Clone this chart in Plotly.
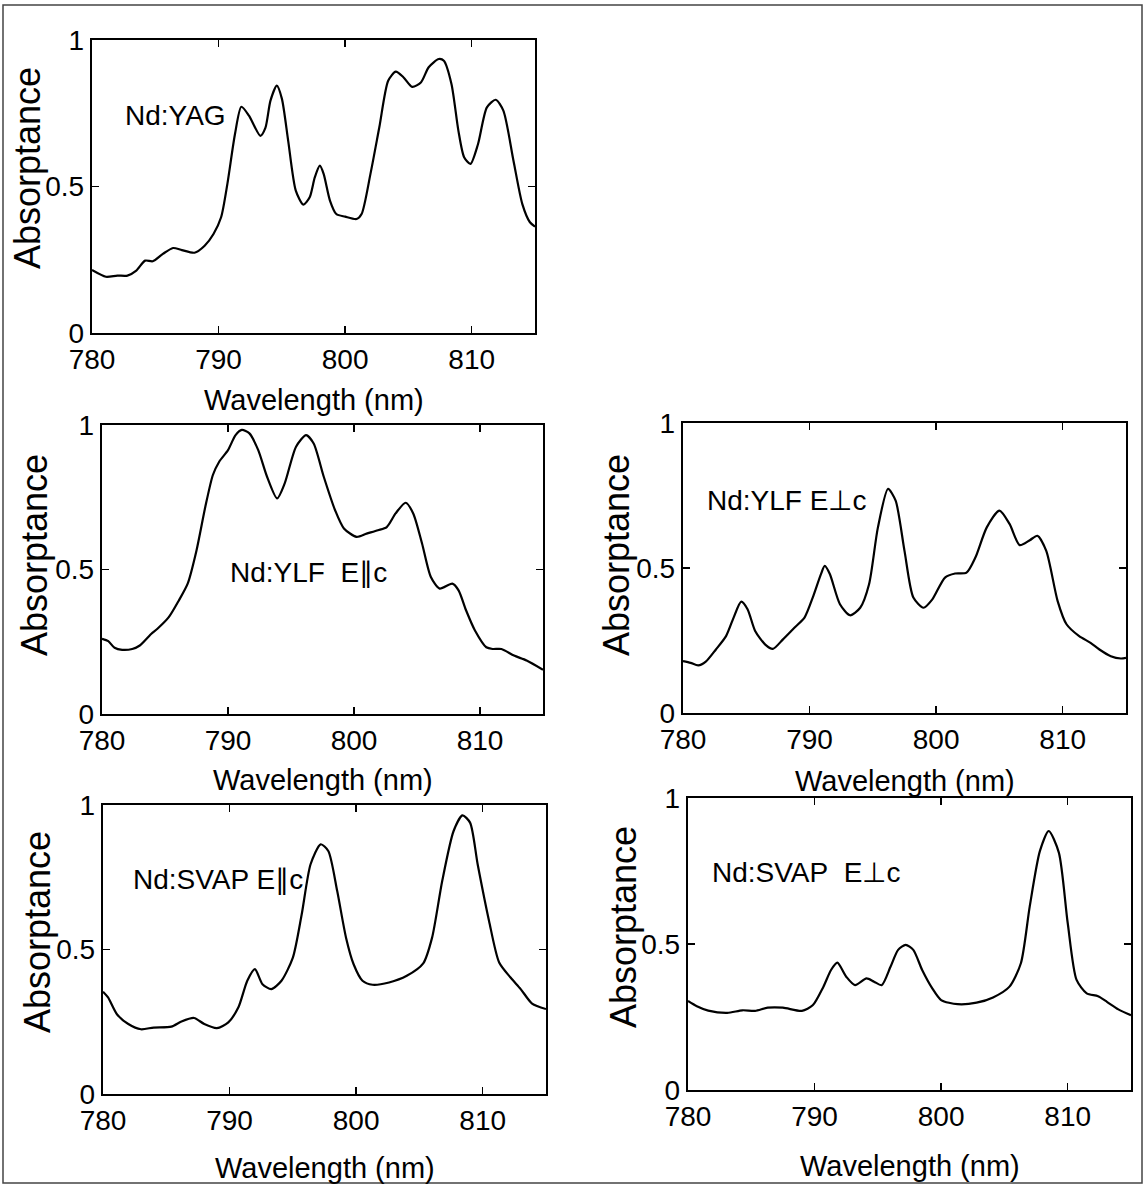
import plotly.graph_objects as go

W, H = 1145, 1184

# ---------------- data ----------------
yag_x = [780, 781.1, 782, 782.8, 783.5, 784.2, 784.8, 785.6, 786.4, 787.1, 788.1, 788.9, 789.6, 790.2,
         790.7, 791.3, 791.8, 792.4, 793.3, 793.7, 794.1, 794.6, 795.0, 795.5, 796.1, 796.7, 797.2, 797.6,
         798.0, 798.3, 798.8, 799.3, 800.0, 800.9, 801.3, 802.0, 802.7, 803.4, 804.0, 804.6, 805.3, 806.0,
         806.6, 807.4, 807.8, 808.4, 808.95, 809.4, 809.9, 810.5, 811.2, 811.9, 812.5, 813.3, 814.0, 814.6, 815]
yag_y = [0.215, 0.192, 0.196, 0.196, 0.213, 0.247, 0.245, 0.27, 0.29, 0.283, 0.274, 0.298, 0.338, 0.395,
         0.51, 0.68, 0.772, 0.742, 0.673, 0.70, 0.793, 0.844, 0.80, 0.656, 0.486, 0.438, 0.463, 0.531,
         0.571, 0.543, 0.452, 0.406, 0.397, 0.389, 0.406, 0.543, 0.702, 0.861, 0.892, 0.873, 0.84, 0.856,
         0.907, 0.935, 0.929, 0.85, 0.69, 0.60, 0.577, 0.645, 0.77, 0.796, 0.759, 0.588, 0.44, 0.378, 0.363]

ylf_par_x = [780, 780.5, 781.0, 781.6, 782.4, 783.0, 783.9, 784.4, 785.3, 786.1, 786.8, 787.5, 788.2, 788.8,
             789.3, 790.0, 790.6, 791.1, 791.7, 792.4, 793.1, 793.9, 794.5, 795.4, 796.2, 796.8, 797.6, 798.5,
             799.2, 800.2, 801.0, 801.9, 802.6, 803.3, 804.1, 804.7, 805.4, 806.1, 806.8, 807.8, 808.3, 808.9,
             809.6, 810.5, 811.0, 811.7, 812.7, 813.7, 815]
ylf_par_y = [0.26, 0.252, 0.229, 0.222, 0.225, 0.237, 0.277, 0.295, 0.335, 0.393, 0.451, 0.566, 0.717, 0.827,
             0.873, 0.913, 0.965, 0.983, 0.971, 0.913, 0.821, 0.746, 0.798, 0.925, 0.965, 0.936, 0.821, 0.705,
             0.642, 0.613, 0.624, 0.636, 0.647, 0.694, 0.731, 0.694, 0.59, 0.474, 0.434, 0.451, 0.428, 0.358,
             0.289, 0.231, 0.225, 0.225, 0.202, 0.185, 0.153]

ylf_perp_x = [780, 780.6, 781.2, 781.8, 782.6, 783.4, 784.0, 784.6, 785.1, 785.7, 786.5, 787.1, 787.9, 788.8,
              789.6, 790.3, 790.9, 791.2, 791.6, 792.4, 793.2, 794.0, 794.7, 795.4, 796.2, 796.8, 797.5, 798.2,
              799.0, 799.7, 800.7, 801.5, 802.4, 803.1, 804.0, 805.0, 805.8, 806.6, 807.4, 808.0, 808.7, 809.6,
              810.3, 811.3, 812.2, 812.9, 813.8, 814.6, 815]
ylf_perp_y = [0.179, 0.173, 0.164, 0.177, 0.219, 0.265, 0.329, 0.384, 0.358, 0.283, 0.236, 0.221, 0.254, 0.294,
              0.329, 0.404, 0.479, 0.507, 0.479, 0.375, 0.337, 0.363, 0.444, 0.64, 0.773, 0.732, 0.559, 0.398,
              0.363, 0.392, 0.467, 0.481, 0.484, 0.536, 0.64, 0.698, 0.652, 0.579, 0.596, 0.611, 0.559, 0.386,
              0.306, 0.265, 0.242, 0.219, 0.196, 0.188, 0.19]

svap_par_x = [780, 780.4, 781.1, 782.0, 783.0, 784.0, 785.4, 786.2, 787.2, 788.0, 789.0, 789.9, 790.7, 791.4,
              792.0, 792.6, 793.3, 794.1, 795.0, 795.7, 796.4, 797.2, 797.8, 798.5, 799.2, 799.8, 800.5, 801.3,
              802.6, 804.0, 805.3, 806.0, 806.8, 807.7, 808.4, 809.0, 809.6, 810.5, 811.3, 812.2, 813.0, 813.9, 815]
svap_par_y = [0.354, 0.334, 0.276, 0.242, 0.224, 0.230, 0.233, 0.251, 0.263, 0.242, 0.228, 0.248, 0.30, 0.392,
              0.432, 0.38, 0.363, 0.392, 0.472, 0.622, 0.795, 0.864, 0.841, 0.703, 0.541, 0.449, 0.392, 0.378,
              0.386, 0.409, 0.452, 0.541, 0.737, 0.91, 0.964, 0.939, 0.795, 0.599, 0.455, 0.403, 0.363, 0.313, 0.294]

svap_perp_x = [780, 780.7, 781.6, 783.1, 784.3, 785.3, 786.3, 787.5, 789.0, 789.85, 790.7, 791.3, 791.8, 792.5,
               793.2, 794.1, 794.7, 795.3, 796.0, 796.6, 797.2, 797.8, 798.5, 799.3, 800.0, 801.3, 802.8, 804.1,
               805.4, 806.3, 807.0, 807.8, 808.5, 809.3, 810.0, 810.7, 811.5, 812.4, 813.1, 814.0, 815]
svap_perp_y = [0.305, 0.287, 0.272, 0.264, 0.273, 0.271, 0.282, 0.282, 0.271, 0.29, 0.354, 0.411, 0.436, 0.388,
               0.359, 0.382, 0.371, 0.359, 0.422, 0.48, 0.497, 0.48, 0.411, 0.348, 0.308, 0.294, 0.299, 0.317,
               0.354, 0.434, 0.629, 0.818, 0.887, 0.813, 0.572, 0.377, 0.331, 0.321, 0.302, 0.276, 0.256]

panel_labels = ["Nd:YAG", "Nd:YLF\u00a0 E\u2225c", "Nd:YLF E\u22a5c", "Nd:SVAP E\u2225c", "Nd:SVAP\u00a0 E\u22a5c"]
label_pos = [(786.6, 0.742), (796.4, 0.491), (788.2, 0.732), (789.1, 0.743), (789.3, 0.744)]

x_ticks = [780, 790, 800, 810]
y_ticks = [0, 0.5, 1]
y_tick_text = ["0", "0.5", "1"]
x_title = "Wavelength (nm)"
y_title = "Absorptance"

# ---------------- layout geometry (screen pixels) ----------------
boxes = [(92, 535, 40, 333), (102, 543, 425, 714), (683, 1126, 423, 713),
         (103, 546, 805, 1094), (688, 1131, 798, 1090)]
ytitle_pos = [(27, 168), (34, 555), (616, 555), (37, 932), (623, 927)]
xtitle_off = [67, 66, 68, 74, 76]

series = [(yag_x, yag_y), (ylf_par_x, ylf_par_y), (ylf_perp_x, ylf_perp_y),
          (svap_par_x, svap_par_y), (svap_perp_x, svap_perp_y)]


def fx(px):
    return px / W


def fy(py):
    return 1 - py / H


FONT = "Liberation Sans, Arial, Helvetica, sans-serif"

fig = go.Figure()
annotations = []
for i, ((sx, sy), (l, r, t, b)) in enumerate(zip(series, boxes), start=1):
    suf = "" if i == 1 else str(i)
    fig.add_trace(go.Scatter(x=sx, y=sy, mode="lines",
                             line=dict(color="black", width=2.2, shape="spline", smoothing=0.7),
                             xaxis="x" + suf, yaxis="y" + suf, showlegend=False, hoverinfo="skip"))
    common = dict(showline=True, linecolor="black", linewidth=2.2, mirror="ticks", ticks="inside",
                  ticklen=7, tickwidth=1.5, tickcolor="black", showgrid=False, zeroline=False,
                  automargin=False,
                  tickfont=dict(family=FONT, size=28, color="black"), fixedrange=True)
    fig.layout["xaxis" + suf] = dict(domain=[fx(l), fx(r)], range=[780, 815], tickvals=x_ticks,
                                     anchor="y" + suf, **common)
    fig.layout["yaxis" + suf] = dict(domain=[fy(b), fy(t)], range=[0, 1], tickvals=y_ticks,
                                     ticktext=y_tick_text, anchor="x" + suf, **common)
    # x title
    annotations.append(dict(text=x_title, xref="paper", yref="paper", x=fx((l + r) / 2),
                            y=fy(b + xtitle_off[i - 1]), xanchor="center", yanchor="middle",
                            showarrow=False, font=dict(family=FONT, size=29, color="black")))
    # y title
    px, py = ytitle_pos[i - 1]
    annotations.append(dict(text=y_title, xref="paper", yref="paper", x=fx(px), y=fy(py),
                            xanchor="center", yanchor="middle", textangle=-90, showarrow=False,
                            font=dict(family=FONT, size=36, color="black")))
    # panel label
    lx, ly = label_pos[i - 1]
    annotations.append(dict(text=panel_labels[i - 1], xref="x" + suf, yref="y" + suf, x=lx, y=ly,
                            xanchor="center", yanchor="middle", showarrow=False,
                            font=dict(family=FONT, size=28, color="black")))

fig.update_layout(width=W, height=H, autosize=False, margin=dict(l=0, r=0, t=0, b=0, autoexpand=False),
                  paper_bgcolor="white", plot_bgcolor="white", annotations=annotations,
                  shapes=[dict(type="rect", xref="paper", yref="paper", x0=fx(3), x1=fx(1142),
                               y0=fy(1183), y1=fy(5), line=dict(color="#444", width=1.5))])

# remove the default page margin so figure pixels map 1:1 onto the window
fig.write_html("out.html", config={"displayModeBar": False, "staticPlot": True},
               post_script="document.body.style.margin='0px';document.body.style.padding='0px';")
